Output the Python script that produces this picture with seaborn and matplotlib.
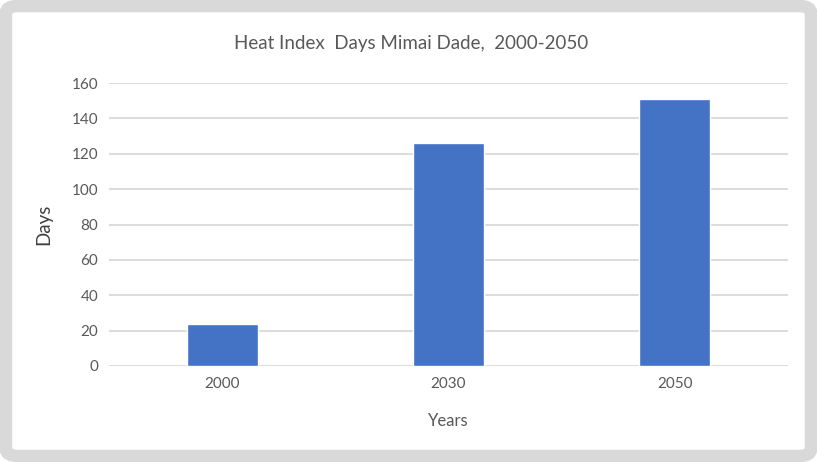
import matplotlib
matplotlib.use("Agg")
import matplotlib.pyplot as plt
import seaborn as sns
import pandas as pd
from matplotlib.patches import FancyBboxPatch

years = ["2000", "2030", "2050"]
days = [24, 126, 151]
yticks = [0, 20, 40, 60, 80, 100, 120, 140, 160]

sns.set_theme(style="white")
plt.rcParams['font.family'] = ['Lato', 'DejaVu Sans']

df = pd.DataFrame({"Years": years, "Days": days})

fig = plt.figure(figsize=(8.17, 4.62), dpi=100)
ax = fig.add_axes([0.134, 0.2078, 0.83, 0.6125])

# outer rounded gray border
border = FancyBboxPatch((6/817, 6/462), 1 - 12/817, 1 - 12/462,
                        boxstyle="round,pad=0,rounding_size=0.015",
                        transform=fig.transFigure, facecolor="white",
                        edgecolor="#d9d9d9", linewidth=9, zorder=-10)
fig.patches.append(border)

sns.barplot(data=df, x="Years", y="Days", color="#4472C4", width=0.314,
            saturation=1, ax=ax, zorder=3)

ax.set_ylim(0, 160)
ax.set_yticks(yticks)
ax.set_xlim(-0.5, 2.5)
ax.grid(axis="y", color="#d9d9d9", linewidth=1.3, zorder=0)
ax.set_axisbelow(True)
for s in ax.spines.values():
    s.set_visible(False)
ax.tick_params(axis="both", length=0, labelsize=11, labelcolor="#595959", pad=8)
ax.set_xlabel("Years", fontsize=12, color="#595959", labelpad=16)
ax.set_ylabel("Days", fontsize=13.5, color="#404040", labelpad=14)
ax.patch.set_alpha(0)
fig.text(0.503, 0.905, "Heat Index  Days Mimai Dade,  2000-2050", ha="center",
         va="center", fontsize=13.5, color="#595959")

fig.savefig("out.png", dpi=100)
